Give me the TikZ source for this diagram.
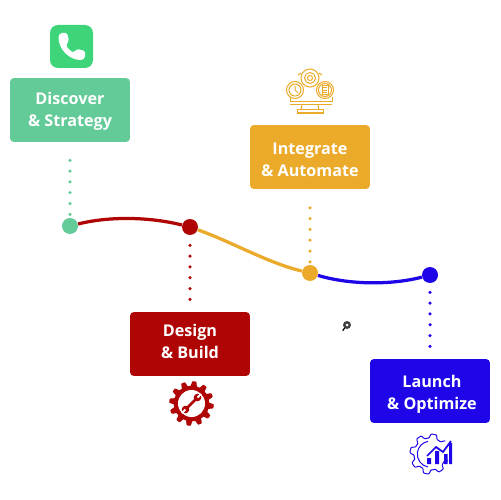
\documentclass[tikz,border=0pt]{standalone}
\usepackage{fontspec}
\setmainfont{Open Sans}
\usepackage{tikz}
\usetikzlibrary{arrows.meta}
\definecolor{greenstep}{HTML}{63CB98}
\definecolor{phonegreen}{HTML}{3DD47A}
\definecolor{redstep}{HTML}{B00505}
\definecolor{goldstep}{HTML}{EBAA2A}
\definecolor{bluestep}{HTML}{1E06E8}
\begin{document}
\begin{tikzpicture}[
  x=0.02cm, y=-0.02cm,
  stepbox/.style={rounded corners=0.08cm, minimum width=2.4cm, minimum height=1.28cm, inner sep=0pt},
  steptext/.style={inner sep=0pt, align=center, text=white,
                  font=\fontsize{9.2}{12.5}\selectfont\bfseries},
  dotnode/.style={circle, minimum size=0.32cm, inner sep=0pt},
  curve/.style={line width=0.065cm},
  dots/.style={line width=0.07cm, line cap=round, dash pattern=on 0pt off 0.216cm},
  thinicon/.style={line width=0.02cm}
]
\useasboundingbox (0,0) rectangle (500,500);

% --- step boxes ---
\node[stepbox, fill=greenstep] (discover)  at (70,110)  {};
\node[stepbox, fill=redstep]   (design)    at (190,344) {};
\node[stepbox, fill=goldstep]  (integrate) at (310,157) {};
\node[stepbox, fill=bluestep]  (launch)    at (430,391) {};

\node[steptext] (discovertext)  at (70,111)    {Discover\\ \& Strategy};
\node[steptext] (designtext)    at (190,341.5) {Design\\ \& Build};
\node[steptext] (integratetext) at (310,160)   {Integrate\\ \& Automate};
\node[steptext] (launchtext)    at (432,394)   {Launch\\ \& Optimize};

% --- dots on the line ---
\node[dotnode, fill=greenstep] (dotA) at (70,226)  {};
\node[dotnode, fill=redstep]   (dotB) at (190,227) {};
\node[dotnode, fill=goldstep]  (dotC) at (310,273) {};
\node[dotnode, fill=bluestep]  (dotD) at (430,275) {};

\draw[curve, redstep]  (dotA) .. controls (110,216) and (150,217) .. (dotB);
\draw[curve, goldstep] (dotB) .. controls (232,242) and (268,263) .. (dotC);
\draw[curve, bluestep] (dotC) .. controls (350,285) and (392,285) .. (dotD);

% --- dotted drops ---
\draw[dots, greenstep] (discover.south) [shorten <=0.36cm, shorten >=-0.06cm] -- (dotA.north);
\draw[dots, redstep]   (dotB.south) [shorten <=0.2cm, shorten >=0.24cm] -- (design.north);
\draw[dots, goldstep]  (integrate.south) [shorten <=0.37cm, shorten >=0.05cm] -- (dotC.north);
\draw[dots, bluestep]  (dotD.south) [shorten <=0.18cm, shorten >=0.2cm] -- (launch.north);

% --- phone icon ---
\fill[phonegreen, rounded corners=0.16cm] (50,25) rectangle (93,68);
\fill[white, rounded corners=0.03cm] (58.5,36) .. controls (58.5,49) and (69,60) .. (82,60)
  -- (85,58) -- (85,51) -- (77,49) -- (73.5,52.5) .. controls (70.5,51) and (67.5,48) .. (66,45)
  -- (69,41) -- (67,33) -- (60.5,33) -- cycle;

% --- monitor icon ---
\begin{scope}[thinicon, goldstep]
  \draw (310,78) circle (9) (310,78) circle (5.5) (310,78) circle (2.5);
  \draw (295,90) circle (8.5) (295,90) circle (6) (295,90) -- (295,86) (295,90) -- (298,93);
  \draw (325,90) circle (8.5) (325,90) circle (6.5);
  \draw (322,85.5) rectangle (328,95) (323,88) -- (327,88) (323,90.5) -- (327,90.5) (323,93) -- (327,93);
  \draw (290,97) -- (290,102) -- (332,102) -- (332,97);
  \draw (290,105) -- (332,105);
  \draw (302,105) -- (301,110) (318,105) -- (319,110);
  \draw (297,110) rectangle (323,113);
  \draw (298,75) -- (301,73) (322,75) -- (319,73);
\end{scope}

% --- red gear ---
\fill[redstep] plot[domain=0:360, samples=241]
  ({191.5+(20+2.3*min(1,max(-1,2*sin(12*\x))))*cos(\x)}, {403.5+(20+2.3*min(1,max(-1,2*sin(12*\x))))*sin(\x)}) -- cycle;
\fill[white] (191.5,403.5) circle (13.5);
\draw[redstep, line width=0.05cm] (186,409) -- (197,398);
\fill[redstep] (197.5,397.5) circle (3.8) (185.5,409.5) circle (3.8);
\draw[white, line width=0.04cm] (197.5,397.5) -- (201,394) (185.5,409.5) -- (182,413);

% --- blue gear with chart ---
\begin{scope}[thinicon, bluestep]
  \draw plot[domain=20:320, samples=121]
    ({430+(18+2*min(1,max(-1,2*sin(8*\x))))*cos(\x)}, {454+(18+2*min(1,max(-1,2*sin(8*\x))))*sin(\x)});
  \draw (428,467) arc[start angle=100, end angle=260, radius=13];
  \fill (427,458) rectangle (431,464) (435,451) rectangle (439,464) (444,454) rectangle (447.5,464) (449,443) rectangle (452,464);
  \draw[line width=0.035cm] (427,456) -- (436,447) -- (443,452) -- (451,441);
\end{scope}

% --- small black mark ---
\fill[black!75] (347,325) circle (4);
\fill[white] (347,325) circle (1.5);
\draw[black, line width=0.025cm] (344.5,328) -- (342.7,330.7);
\end{tikzpicture}
\end{document}
